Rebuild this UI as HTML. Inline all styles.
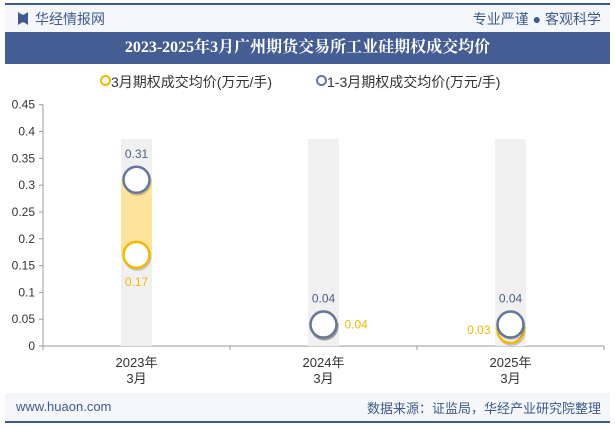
<!DOCTYPE html>
<html><head><meta charset="utf-8"><style>
body{margin:0;width:615px;height:427px;background:#fff;font-family:"Liberation Sans","Noto Sans CJK SC",sans-serif;overflow:hidden;position:relative}
.a{position:absolute}
</style></head><body>
<div class="a" style="left:5px;top:3px;width:605px;height:2px;background:#3d5a8f"></div>
<div class="a" style="left:5px;top:5px;width:605px;height:27px;background:#f4f6fa"></div>
<div class="a" style="left:18px;top:12px;width:10px;height:13px;background:#3d5a8f;clip-path:polygon(0 0,40% 20%,60% 20%,100% 0,100% 100%,60% 80%,40% 80%,0 100%)"></div>
<div class="a" style="left:35px;top:9px;font-size:14px;color:#3d5a8f">华经情报网</div>
<div class="a" style="right:14px;top:9px;font-size:14px;color:#3d5a8f">专业严谨 ● 客观科学</div>
<div class="a" style="left:5px;top:32px;width:605px;height:32px;background:#445d93;color:#fff;font-weight:bold;font-size:16px;text-align:center;line-height:32px;font-family:'Liberation Serif','Noto Serif CJK SC',serif">2023-2025年3月广州期货交易所工业硅期权成交均价</div>
<div class="a" style="left:100px;top:72px;font-size:14px;color:#333"><span style="display:inline-block;width:7px;height:7px;border:2px solid #f5b800;border-radius:50%;vertical-align:1px"></span>3月期权成交均价(万元/手)</div>
<div class="a" style="left:316px;top:72px;font-size:14px;color:#333"><span style="display:inline-block;width:7px;height:7px;border:2px solid #63769e;border-radius:50%;vertical-align:1px"></span>1-3月期权成交均价(万元/手)</div>
<svg class="a" style="left:0;top:0" width="615" height="427" id="chart"></svg>
<div class="a" style="left:5px;top:393px;width:605px;height:29px;background:#f4f6fa"></div>
<div class="a" style="left:5px;top:421px;width:605px;height:2px;background:#3d5a8f"></div>
<div class="a" style="left:16px;top:399px;font-size:13px;color:#3d5a8f">www.huaon.com</div>
<div class="a" style="right:14px;top:398px;font-size:13px;color:#3d5a8f">数据来源：证监局，华经产业研究院整理</div>
<script>
const categories=["2023年|3月","2024年|3月","2025年|3月"];
const marchValues=[0.17,0.04,0.03];
const ytdValues=[0.31,0.04,0.04];
const yTicks=[0,0.05,0.1,0.15,0.2,0.25,0.3,0.35,0.4,0.45];
const NS="http://www.w3.org/2000/svg",svg=document.getElementById('chart');
const x0=43,x1=604,yb=346,yt=104.7;
const y=v=>yb-(v/0.45)*(yb-yt);
const cx=i=>x0+(x1-x0)*(i+0.5)/categories.length;
function mk(t,a,p){const e=document.createElementNS(NS,t);for(const k in a)e.setAttribute(k,a[k]);(p||svg).appendChild(e);return e;}
const ax=mk('line',{x1:x0,y1:yt,x2:x0,y2:yb,stroke:'#999'});


yTicks.forEach(v=>{mk('line',{x1:x0-4,x2:x0,y1:y(v),y2:y(v),stroke:'#999'});
const t=mk('text',{x:x0-8,y:y(v)+4,'text-anchor':'end','font-size':12,fill:'#333'});t.textContent=String(v);

});
const xa=mk('line',{x1:x0,y1:yb,x2:x1,y2:yb,stroke:'#999'});


for(let i=0;i<=categories.length;i++){const xx=x0+(x1-x0)*i/categories.length;mk('line',{x1:xx,x2:xx,y1:yb,y2:yb+4,stroke:'#999'});}
categories.forEach((c,i)=>{const bg=mk('rect',{x:cx(i)-15.5,y:139,width:31,height:yb-139,fill:'#f0f0f0'});


const p=c.split('|');p.forEach((s,j)=>{const t=mk('text',{x:cx(i),y:yb+21+j*16,'text-anchor':'middle','font-size':13,fill:'#333'});t.textContent=s;

});});
categories.forEach((c,i)=>{const a=marchValues[i],b=ytdValues[i];
const r=mk('rect',{x:cx(i)-15.5,y:y(Math.max(a,b)),width:31,height:Math.abs(y(a)-y(b)),fill:'#fde49a'});

});
function dot(i,v,col,name){const g=mk('circle',{cx:cx(i)+1,cy:y(v)+2,r:14,fill:'#00000030'});
const c=mk('circle',{cx:cx(i),cy:y(v),r:13,fill:'#fff',stroke:col,'stroke-width':2.5});

}
marchValues.forEach((v,i)=>dot(i,v,'#f5b800','march-point'));
ytdValues.forEach((v,i)=>dot(i,v,'#63769e','jan-mar-point'));
marchValues.forEach((v,i)=>{let a,xx,yy;
if(i===0){xx=cx(i);yy=y(v)+31;a='middle';}else if(i===1){xx=cx(i)+21;yy=y(v)+4;a='start';}else{xx=cx(i)-20;yy=y(v)+4;a='end';}
const t=mk('text',{x:xx,y:yy,'text-anchor':a,'font-size':12,fill:'#f5b800'});t.textContent=v.toFixed(2);

});
ytdValues.forEach((v,i)=>{const t=mk('text',{x:cx(i),y:y(v)-22,'text-anchor':'middle','font-size':12,fill:'#4a5f8a'});t.textContent=v.toFixed(2);

});
</script>
</body></html>
